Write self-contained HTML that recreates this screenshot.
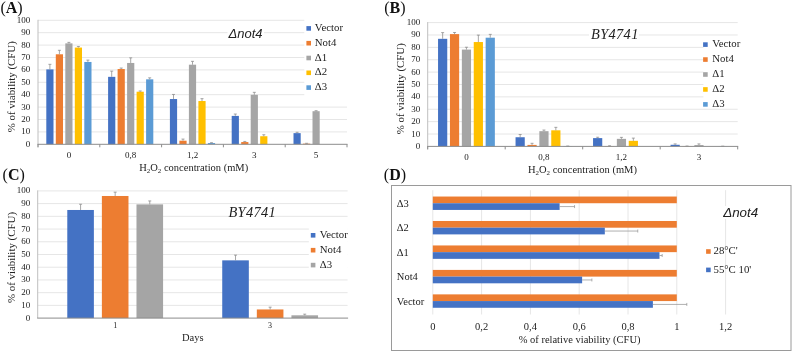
<!DOCTYPE html>
<html><head><meta charset="utf-8"><style>
html,body{margin:0;padding:0;background:#fff;}
body{width:794px;height:353px;overflow:hidden;font-family:"Liberation Serif",serif;}
svg{display:block;will-change:transform;}
</style></head><body>
<svg width="794" height="353" viewBox="0 0 794 353" shape-rendering="auto">
<rect width="794" height="353" fill="#fff"/>
<text x="0.4" y="12.6" font-size="16" font-family="'Liberation Serif', serif" fill="#111">(<tspan font-weight="bold">A</tspan>)</text>
<line x1="38" y1="131.9" x2="347" y2="131.9" stroke="#E6E6E6" stroke-width="1"/>
<line x1="38" y1="119.5" x2="347" y2="119.5" stroke="#E6E6E6" stroke-width="1"/>
<line x1="38" y1="107.1" x2="347" y2="107.1" stroke="#E6E6E6" stroke-width="1"/>
<line x1="38" y1="94.7" x2="347" y2="94.7" stroke="#E6E6E6" stroke-width="1"/>
<line x1="38" y1="82.3" x2="347" y2="82.3" stroke="#E6E6E6" stroke-width="1"/>
<line x1="38" y1="69.9" x2="347" y2="69.9" stroke="#E6E6E6" stroke-width="1"/>
<line x1="38" y1="57.5" x2="347" y2="57.5" stroke="#E6E6E6" stroke-width="1"/>
<line x1="38" y1="45.1" x2="347" y2="45.1" stroke="#E6E6E6" stroke-width="1"/>
<line x1="38" y1="32.7" x2="347" y2="32.7" stroke="#E6E6E6" stroke-width="1"/>
<line x1="38" y1="20.3" x2="347" y2="20.3" stroke="#E6E6E6" stroke-width="1"/>
<text x="30.3" y="146.8" font-size="9" text-anchor="end" font-family="'Liberation Serif', serif" font-weight="normal" font-style="normal" fill="#222222" >0</text>
<text x="30.3" y="134.4" font-size="9" text-anchor="end" font-family="'Liberation Serif', serif" font-weight="normal" font-style="normal" fill="#222222" >10</text>
<text x="30.3" y="122" font-size="9" text-anchor="end" font-family="'Liberation Serif', serif" font-weight="normal" font-style="normal" fill="#222222" >20</text>
<text x="30.3" y="109.6" font-size="9" text-anchor="end" font-family="'Liberation Serif', serif" font-weight="normal" font-style="normal" fill="#222222" >30</text>
<text x="30.3" y="97.2" font-size="9" text-anchor="end" font-family="'Liberation Serif', serif" font-weight="normal" font-style="normal" fill="#222222" >40</text>
<text x="30.3" y="84.8" font-size="9" text-anchor="end" font-family="'Liberation Serif', serif" font-weight="normal" font-style="normal" fill="#222222" >50</text>
<text x="30.3" y="72.4" font-size="9" text-anchor="end" font-family="'Liberation Serif', serif" font-weight="normal" font-style="normal" fill="#222222" >60</text>
<text x="30.3" y="60" font-size="9" text-anchor="end" font-family="'Liberation Serif', serif" font-weight="normal" font-style="normal" fill="#222222" >70</text>
<text x="30.3" y="47.6" font-size="9" text-anchor="end" font-family="'Liberation Serif', serif" font-weight="normal" font-style="normal" fill="#222222" >80</text>
<text x="30.3" y="35.2" font-size="9" text-anchor="end" font-family="'Liberation Serif', serif" font-weight="normal" font-style="normal" fill="#222222" >90</text>
<text x="30.3" y="22.8" font-size="9" text-anchor="end" font-family="'Liberation Serif', serif" font-weight="normal" font-style="normal" fill="#222222" >100</text>
<rect x="227.5" y="28.5" width="36.5" height="10" fill="#fff"/>
<rect x="304.3" y="19" width="43.5" height="81" fill="#fff"/>
<rect x="46.3" y="69.4" width="7.2" height="74.9" fill="#4472C4"/>
<line x1="49.9" y1="69.4" x2="49.9" y2="64.32" stroke="#8A8A8A" stroke-width="0.75"/>
<line x1="48.4" y1="64.32" x2="51.4" y2="64.32" stroke="#8A8A8A" stroke-width="0.75"/>
<rect x="55.8" y="54.28" width="7.2" height="90.02" fill="#ED7D31"/>
<line x1="59.4" y1="54.28" x2="59.4" y2="50.31" stroke="#8A8A8A" stroke-width="0.75"/>
<line x1="57.9" y1="50.31" x2="60.9" y2="50.31" stroke="#8A8A8A" stroke-width="0.75"/>
<rect x="65.3" y="43.36" width="7.2" height="100.94" fill="#A5A5A5"/>
<line x1="68.9" y1="43.36" x2="68.9" y2="42.37" stroke="#8A8A8A" stroke-width="0.75"/>
<line x1="67.4" y1="42.37" x2="70.4" y2="42.37" stroke="#8A8A8A" stroke-width="0.75"/>
<rect x="74.8" y="47.58" width="7.2" height="96.72" fill="#FFC000"/>
<line x1="78.4" y1="47.58" x2="78.4" y2="46.46" stroke="#8A8A8A" stroke-width="0.75"/>
<line x1="76.9" y1="46.46" x2="79.9" y2="46.46" stroke="#8A8A8A" stroke-width="0.75"/>
<rect x="84.3" y="61.96" width="7.2" height="82.34" fill="#5B9BD5"/>
<line x1="87.9" y1="61.96" x2="87.9" y2="60.1" stroke="#8A8A8A" stroke-width="0.75"/>
<line x1="86.4" y1="60.1" x2="89.4" y2="60.1" stroke="#8A8A8A" stroke-width="0.75"/>
<rect x="108.1" y="76.84" width="7.2" height="67.46" fill="#4472C4"/>
<line x1="111.7" y1="76.84" x2="111.7" y2="71.14" stroke="#8A8A8A" stroke-width="0.75"/>
<line x1="110.2" y1="71.14" x2="113.2" y2="71.14" stroke="#8A8A8A" stroke-width="0.75"/>
<rect x="117.6" y="69.03" width="7.2" height="75.27" fill="#ED7D31"/>
<line x1="121.2" y1="69.03" x2="121.2" y2="68.04" stroke="#8A8A8A" stroke-width="0.75"/>
<line x1="119.7" y1="68.04" x2="122.7" y2="68.04" stroke="#8A8A8A" stroke-width="0.75"/>
<rect x="127.1" y="62.96" width="7.2" height="81.34" fill="#A5A5A5"/>
<line x1="130.7" y1="62.96" x2="130.7" y2="57.87" stroke="#8A8A8A" stroke-width="0.75"/>
<line x1="129.2" y1="57.87" x2="132.2" y2="57.87" stroke="#8A8A8A" stroke-width="0.75"/>
<rect x="136.6" y="91.72" width="7.2" height="52.58" fill="#FFC000"/>
<line x1="140.2" y1="91.72" x2="140.2" y2="90.98" stroke="#8A8A8A" stroke-width="0.75"/>
<line x1="138.7" y1="90.98" x2="141.7" y2="90.98" stroke="#8A8A8A" stroke-width="0.75"/>
<rect x="146.1" y="79.32" width="7.2" height="64.98" fill="#5B9BD5"/>
<line x1="149.7" y1="79.32" x2="149.7" y2="77.84" stroke="#8A8A8A" stroke-width="0.75"/>
<line x1="148.2" y1="77.84" x2="151.2" y2="77.84" stroke="#8A8A8A" stroke-width="0.75"/>
<rect x="169.9" y="99.04" width="7.2" height="45.26" fill="#4472C4"/>
<line x1="173.5" y1="99.04" x2="173.5" y2="94.45" stroke="#8A8A8A" stroke-width="0.75"/>
<line x1="172" y1="94.45" x2="175" y2="94.45" stroke="#8A8A8A" stroke-width="0.75"/>
<rect x="179.4" y="140.7" width="7.2" height="3.6" fill="#ED7D31"/>
<line x1="183" y1="140.7" x2="183" y2="139.09" stroke="#8A8A8A" stroke-width="0.75"/>
<line x1="181.5" y1="139.09" x2="184.5" y2="139.09" stroke="#8A8A8A" stroke-width="0.75"/>
<rect x="188.9" y="64.69" width="7.2" height="79.61" fill="#A5A5A5"/>
<line x1="192.5" y1="64.69" x2="192.5" y2="61.34" stroke="#8A8A8A" stroke-width="0.75"/>
<line x1="191" y1="61.34" x2="194" y2="61.34" stroke="#8A8A8A" stroke-width="0.75"/>
<rect x="198.4" y="101.02" width="7.2" height="43.28" fill="#FFC000"/>
<line x1="202" y1="101.02" x2="202" y2="98.67" stroke="#8A8A8A" stroke-width="0.75"/>
<line x1="200.5" y1="98.67" x2="203.5" y2="98.67" stroke="#8A8A8A" stroke-width="0.75"/>
<rect x="207.9" y="143.06" width="7.2" height="1.24" fill="#5B9BD5"/>
<line x1="211.5" y1="143.06" x2="211.5" y2="142.69" stroke="#8A8A8A" stroke-width="0.75"/>
<line x1="210" y1="142.69" x2="213" y2="142.69" stroke="#8A8A8A" stroke-width="0.75"/>
<rect x="231.7" y="115.9" width="7.2" height="28.4" fill="#4472C4"/>
<line x1="235.3" y1="115.9" x2="235.3" y2="114.04" stroke="#8A8A8A" stroke-width="0.75"/>
<line x1="233.8" y1="114.04" x2="236.8" y2="114.04" stroke="#8A8A8A" stroke-width="0.75"/>
<rect x="241.2" y="142.07" width="7.2" height="2.23" fill="#ED7D31"/>
<line x1="244.8" y1="142.07" x2="244.8" y2="141.45" stroke="#8A8A8A" stroke-width="0.75"/>
<line x1="243.3" y1="141.45" x2="246.3" y2="141.45" stroke="#8A8A8A" stroke-width="0.75"/>
<rect x="250.7" y="94.82" width="7.2" height="49.48" fill="#A5A5A5"/>
<line x1="254.3" y1="94.82" x2="254.3" y2="92.34" stroke="#8A8A8A" stroke-width="0.75"/>
<line x1="252.8" y1="92.34" x2="255.8" y2="92.34" stroke="#8A8A8A" stroke-width="0.75"/>
<rect x="260.2" y="136.24" width="7.2" height="8.06" fill="#FFC000"/>
<line x1="263.8" y1="136.24" x2="263.8" y2="134.75" stroke="#8A8A8A" stroke-width="0.75"/>
<line x1="262.3" y1="134.75" x2="265.3" y2="134.75" stroke="#8A8A8A" stroke-width="0.75"/>
<rect x="293.5" y="133.14" width="7.2" height="11.16" fill="#4472C4"/>
<line x1="297.1" y1="133.14" x2="297.1" y2="132.27" stroke="#8A8A8A" stroke-width="0.75"/>
<line x1="295.6" y1="132.27" x2="298.6" y2="132.27" stroke="#8A8A8A" stroke-width="0.75"/>
<rect x="303" y="143.68" width="7.2" height="0.62" fill="#ED7D31"/>
<line x1="306.6" y1="143.68" x2="306.6" y2="143.31" stroke="#8A8A8A" stroke-width="0.75"/>
<line x1="305.1" y1="143.31" x2="308.1" y2="143.31" stroke="#8A8A8A" stroke-width="0.75"/>
<rect x="312.5" y="111.19" width="7.2" height="33.11" fill="#A5A5A5"/>
<line x1="316.1" y1="111.19" x2="316.1" y2="110.7" stroke="#8A8A8A" stroke-width="0.75"/>
<line x1="314.6" y1="110.7" x2="317.6" y2="110.7" stroke="#8A8A8A" stroke-width="0.75"/>
<line x1="38" y1="19.8" x2="38" y2="147.3" stroke="#BFBFBF" stroke-width="1"/>
<line x1="37.5" y1="144.3" x2="347.5" y2="144.3" stroke="#8C8C8C" stroke-width="1"/>
<line x1="38" y1="144.3" x2="38" y2="147.3" stroke="#8C8C8C" stroke-width="1"/>
<line x1="99.8" y1="144.3" x2="99.8" y2="147.3" stroke="#8C8C8C" stroke-width="1"/>
<line x1="161.6" y1="144.3" x2="161.6" y2="147.3" stroke="#8C8C8C" stroke-width="1"/>
<line x1="223.4" y1="144.3" x2="223.4" y2="147.3" stroke="#8C8C8C" stroke-width="1"/>
<line x1="285.2" y1="144.3" x2="285.2" y2="147.3" stroke="#8C8C8C" stroke-width="1"/>
<line x1="347" y1="144.3" x2="347" y2="147.3" stroke="#8C8C8C" stroke-width="1"/>
<text x="68.9" y="158" font-size="9" text-anchor="middle" font-family="'Liberation Serif', serif" font-weight="normal" font-style="normal" fill="#222222" >0</text>
<text x="130.7" y="158" font-size="9" text-anchor="middle" font-family="'Liberation Serif', serif" font-weight="normal" font-style="normal" fill="#222222" >0,8</text>
<text x="192.5" y="158" font-size="9" text-anchor="middle" font-family="'Liberation Serif', serif" font-weight="normal" font-style="normal" fill="#222222" >1,2</text>
<text x="254.3" y="158" font-size="9" text-anchor="middle" font-family="'Liberation Serif', serif" font-weight="normal" font-style="normal" fill="#222222" >3</text>
<text x="316.1" y="158" font-size="9" text-anchor="middle" font-family="'Liberation Serif', serif" font-weight="normal" font-style="normal" fill="#222222" >5</text>
<text transform="translate(14.6,86.7) rotate(-90)" x="0" y="0" font-size="10.9" text-anchor="middle" font-family="'Liberation Serif', serif" fill="#222222">% of viability (CFU)</text>
<text x="139.2" y="170.6" font-size="10.5" font-family="'Liberation Serif', serif" fill="#222222">H<tspan font-size="6.93" dy="2">2</tspan><tspan dy="-2">O</tspan><tspan font-size="6.93" dy="2">2</tspan><tspan dy="-2"> concentration (mM)</tspan></text>
<text x="228.5" y="38.1" font-size="13" text-anchor="start" font-family="'Liberation Sans', sans-serif" font-weight="normal" font-style="italic" fill="#222222" >&#916;not4</text>
<rect x="306.4" y="26.1" width="4.6" height="4.6" fill="#4472C4"/>
<text x="314.8" y="30.96" font-size="10.8" text-anchor="start" font-family="'Liberation Serif', serif" font-weight="normal" font-style="normal" fill="#222222" >Vector</text>
<rect x="306.4" y="40.9" width="4.6" height="4.6" fill="#ED7D31"/>
<text x="314.8" y="45.76" font-size="10.8" text-anchor="start" font-family="'Liberation Serif', serif" font-weight="normal" font-style="normal" fill="#222222" >Not4</text>
<rect x="306.4" y="55.7" width="4.6" height="4.6" fill="#A5A5A5"/>
<text x="314.8" y="60.56" font-size="10.8" text-anchor="start" font-family="'Liberation Serif', serif" font-weight="normal" font-style="normal" fill="#222222" >&#916;1</text>
<rect x="306.4" y="70.5" width="4.6" height="4.6" fill="#FFC000"/>
<text x="314.8" y="75.36" font-size="10.8" text-anchor="start" font-family="'Liberation Serif', serif" font-weight="normal" font-style="normal" fill="#222222" >&#916;2</text>
<rect x="306.4" y="85.3" width="4.6" height="4.6" fill="#5B9BD5"/>
<text x="314.8" y="90.16" font-size="10.8" text-anchor="start" font-family="'Liberation Serif', serif" font-weight="normal" font-style="normal" fill="#222222" >&#916;3</text>
<text x="384.2" y="12.6" font-size="16" font-family="'Liberation Serif', serif" fill="#111">(<tspan font-weight="bold">B</tspan>)</text>
<line x1="427.7" y1="134.02" x2="737.7" y2="134.02" stroke="#E6E6E6" stroke-width="1"/>
<line x1="427.7" y1="121.64" x2="737.7" y2="121.64" stroke="#E6E6E6" stroke-width="1"/>
<line x1="427.7" y1="109.26" x2="737.7" y2="109.26" stroke="#E6E6E6" stroke-width="1"/>
<line x1="427.7" y1="96.88" x2="737.7" y2="96.88" stroke="#E6E6E6" stroke-width="1"/>
<line x1="427.7" y1="84.5" x2="737.7" y2="84.5" stroke="#E6E6E6" stroke-width="1"/>
<line x1="427.7" y1="72.12" x2="737.7" y2="72.12" stroke="#E6E6E6" stroke-width="1"/>
<line x1="427.7" y1="59.74" x2="737.7" y2="59.74" stroke="#E6E6E6" stroke-width="1"/>
<line x1="427.7" y1="47.36" x2="737.7" y2="47.36" stroke="#E6E6E6" stroke-width="1"/>
<line x1="427.7" y1="34.98" x2="737.7" y2="34.98" stroke="#E6E6E6" stroke-width="1"/>
<line x1="427.7" y1="22.6" x2="737.7" y2="22.6" stroke="#E6E6E6" stroke-width="1"/>
<text x="420.2" y="148.9" font-size="9" text-anchor="end" font-family="'Liberation Serif', serif" font-weight="normal" font-style="normal" fill="#222222" >0</text>
<text x="420.2" y="136.52" font-size="9" text-anchor="end" font-family="'Liberation Serif', serif" font-weight="normal" font-style="normal" fill="#222222" >10</text>
<text x="420.2" y="124.14" font-size="9" text-anchor="end" font-family="'Liberation Serif', serif" font-weight="normal" font-style="normal" fill="#222222" >20</text>
<text x="420.2" y="111.76" font-size="9" text-anchor="end" font-family="'Liberation Serif', serif" font-weight="normal" font-style="normal" fill="#222222" >30</text>
<text x="420.2" y="99.38" font-size="9" text-anchor="end" font-family="'Liberation Serif', serif" font-weight="normal" font-style="normal" fill="#222222" >40</text>
<text x="420.2" y="87" font-size="9" text-anchor="end" font-family="'Liberation Serif', serif" font-weight="normal" font-style="normal" fill="#222222" >50</text>
<text x="420.2" y="74.62" font-size="9" text-anchor="end" font-family="'Liberation Serif', serif" font-weight="normal" font-style="normal" fill="#222222" >60</text>
<text x="420.2" y="62.24" font-size="9" text-anchor="end" font-family="'Liberation Serif', serif" font-weight="normal" font-style="normal" fill="#222222" >70</text>
<text x="420.2" y="49.86" font-size="9" text-anchor="end" font-family="'Liberation Serif', serif" font-weight="normal" font-style="normal" fill="#222222" >80</text>
<text x="420.2" y="37.48" font-size="9" text-anchor="end" font-family="'Liberation Serif', serif" font-weight="normal" font-style="normal" fill="#222222" >90</text>
<text x="420.2" y="25.1" font-size="9" text-anchor="end" font-family="'Liberation Serif', serif" font-weight="normal" font-style="normal" fill="#222222" >100</text>
<rect x="589" y="28.5" width="50" height="10" fill="#fff"/>
<rect x="703.4" y="36" width="36" height="70" fill="#fff"/>
<rect x="438.05" y="38.82" width="9.2" height="107.58" fill="#4472C4"/>
<line x1="442.65" y1="38.82" x2="442.65" y2="32.63" stroke="#8A8A8A" stroke-width="0.75"/>
<line x1="441.15" y1="32.63" x2="444.15" y2="32.63" stroke="#8A8A8A" stroke-width="0.75"/>
<rect x="449.95" y="34.11" width="9.2" height="112.29" fill="#ED7D31"/>
<line x1="454.55" y1="34.11" x2="454.55" y2="32.5" stroke="#8A8A8A" stroke-width="0.75"/>
<line x1="453.05" y1="32.5" x2="456.05" y2="32.5" stroke="#8A8A8A" stroke-width="0.75"/>
<rect x="461.85" y="49.59" width="9.2" height="96.81" fill="#A5A5A5"/>
<line x1="466.45" y1="49.59" x2="466.45" y2="47.24" stroke="#8A8A8A" stroke-width="0.75"/>
<line x1="464.95" y1="47.24" x2="467.95" y2="47.24" stroke="#8A8A8A" stroke-width="0.75"/>
<rect x="473.75" y="42.04" width="9.2" height="104.36" fill="#FFC000"/>
<line x1="478.35" y1="42.04" x2="478.35" y2="35.1" stroke="#8A8A8A" stroke-width="0.75"/>
<line x1="476.85" y1="35.1" x2="479.85" y2="35.1" stroke="#8A8A8A" stroke-width="0.75"/>
<rect x="485.65" y="37.7" width="9.2" height="108.7" fill="#5B9BD5"/>
<line x1="490.25" y1="37.7" x2="490.25" y2="34.36" stroke="#8A8A8A" stroke-width="0.75"/>
<line x1="488.75" y1="34.36" x2="491.75" y2="34.36" stroke="#8A8A8A" stroke-width="0.75"/>
<rect x="515.55" y="137.24" width="9.2" height="9.16" fill="#4472C4"/>
<line x1="520.15" y1="137.24" x2="520.15" y2="134.52" stroke="#8A8A8A" stroke-width="0.75"/>
<line x1="518.65" y1="134.52" x2="521.65" y2="134.52" stroke="#8A8A8A" stroke-width="0.75"/>
<rect x="527.45" y="144.91" width="9.2" height="1.49" fill="#ED7D31"/>
<line x1="532.05" y1="144.91" x2="532.05" y2="143.31" stroke="#8A8A8A" stroke-width="0.75"/>
<line x1="530.55" y1="143.31" x2="533.55" y2="143.31" stroke="#8A8A8A" stroke-width="0.75"/>
<rect x="539.35" y="131.17" width="9.2" height="15.23" fill="#A5A5A5"/>
<line x1="543.95" y1="131.17" x2="543.95" y2="130.06" stroke="#8A8A8A" stroke-width="0.75"/>
<line x1="542.45" y1="130.06" x2="545.45" y2="130.06" stroke="#8A8A8A" stroke-width="0.75"/>
<rect x="551.25" y="130.31" width="9.2" height="16.09" fill="#FFC000"/>
<line x1="555.85" y1="130.31" x2="555.85" y2="127.33" stroke="#8A8A8A" stroke-width="0.75"/>
<line x1="554.35" y1="127.33" x2="557.35" y2="127.33" stroke="#8A8A8A" stroke-width="0.75"/>
<rect x="563.15" y="146.15" width="9.2" height="0.25" fill="#5B9BD5"/>
<line x1="567.75" y1="146.15" x2="567.75" y2="146.03" stroke="#8A8A8A" stroke-width="0.75"/>
<line x1="566.25" y1="146.03" x2="569.25" y2="146.03" stroke="#8A8A8A" stroke-width="0.75"/>
<rect x="593.05" y="138.11" width="9.2" height="8.29" fill="#4472C4"/>
<line x1="597.65" y1="138.11" x2="597.65" y2="137.24" stroke="#8A8A8A" stroke-width="0.75"/>
<line x1="596.15" y1="137.24" x2="599.15" y2="137.24" stroke="#8A8A8A" stroke-width="0.75"/>
<rect x="604.95" y="146.15" width="9.2" height="0.25" fill="#ED7D31"/>
<line x1="609.55" y1="146.15" x2="609.55" y2="145.78" stroke="#8A8A8A" stroke-width="0.75"/>
<line x1="608.05" y1="145.78" x2="611.05" y2="145.78" stroke="#8A8A8A" stroke-width="0.75"/>
<rect x="616.85" y="138.85" width="9.2" height="7.55" fill="#A5A5A5"/>
<line x1="621.45" y1="138.85" x2="621.45" y2="137.36" stroke="#8A8A8A" stroke-width="0.75"/>
<line x1="619.95" y1="137.36" x2="622.95" y2="137.36" stroke="#8A8A8A" stroke-width="0.75"/>
<rect x="628.75" y="140.83" width="9.2" height="5.57" fill="#FFC000"/>
<line x1="633.35" y1="140.83" x2="633.35" y2="138.11" stroke="#8A8A8A" stroke-width="0.75"/>
<line x1="631.85" y1="138.11" x2="634.85" y2="138.11" stroke="#8A8A8A" stroke-width="0.75"/>
<rect x="670.55" y="144.79" width="9.2" height="1.61" fill="#4472C4"/>
<line x1="675.15" y1="144.79" x2="675.15" y2="143.92" stroke="#8A8A8A" stroke-width="0.75"/>
<line x1="673.65" y1="143.92" x2="676.65" y2="143.92" stroke="#8A8A8A" stroke-width="0.75"/>
<rect x="682.45" y="146.15" width="9.2" height="0.25" fill="#ED7D31"/>
<line x1="687.05" y1="146.15" x2="687.05" y2="146.03" stroke="#8A8A8A" stroke-width="0.75"/>
<line x1="685.55" y1="146.03" x2="688.55" y2="146.03" stroke="#8A8A8A" stroke-width="0.75"/>
<rect x="694.35" y="145.04" width="9.2" height="1.36" fill="#A5A5A5"/>
<line x1="698.95" y1="145.04" x2="698.95" y2="143.92" stroke="#8A8A8A" stroke-width="0.75"/>
<line x1="697.45" y1="143.92" x2="700.45" y2="143.92" stroke="#8A8A8A" stroke-width="0.75"/>
<rect x="718.15" y="146.28" width="9.2" height="0.12" fill="#5B9BD5"/>
<line x1="722.75" y1="146.28" x2="722.75" y2="146.15" stroke="#8A8A8A" stroke-width="0.75"/>
<line x1="721.25" y1="146.15" x2="724.25" y2="146.15" stroke="#8A8A8A" stroke-width="0.75"/>
<line x1="427.7" y1="22.1" x2="427.7" y2="149.4" stroke="#BFBFBF" stroke-width="1"/>
<line x1="427.2" y1="146.4" x2="738.2" y2="146.4" stroke="#8C8C8C" stroke-width="1"/>
<line x1="427.7" y1="146.4" x2="427.7" y2="149.4" stroke="#8C8C8C" stroke-width="1"/>
<line x1="505.2" y1="146.4" x2="505.2" y2="149.4" stroke="#8C8C8C" stroke-width="1"/>
<line x1="582.7" y1="146.4" x2="582.7" y2="149.4" stroke="#8C8C8C" stroke-width="1"/>
<line x1="660.2" y1="146.4" x2="660.2" y2="149.4" stroke="#8C8C8C" stroke-width="1"/>
<line x1="737.7" y1="146.4" x2="737.7" y2="149.4" stroke="#8C8C8C" stroke-width="1"/>
<text x="466.45" y="160" font-size="9" text-anchor="middle" font-family="'Liberation Serif', serif" font-weight="normal" font-style="normal" fill="#222222" >0</text>
<text x="543.95" y="160" font-size="9" text-anchor="middle" font-family="'Liberation Serif', serif" font-weight="normal" font-style="normal" fill="#222222" >0,8</text>
<text x="621.45" y="160" font-size="9" text-anchor="middle" font-family="'Liberation Serif', serif" font-weight="normal" font-style="normal" fill="#222222" >1,2</text>
<text x="698.95" y="160" font-size="9" text-anchor="middle" font-family="'Liberation Serif', serif" font-weight="normal" font-style="normal" fill="#222222" >3</text>
<text transform="translate(403.6,88.7) rotate(-90)" x="0" y="0" font-size="10.9" text-anchor="middle" font-family="'Liberation Serif', serif" fill="#222222">% of viability (CFU)</text>
<text x="527.9" y="172.9" font-size="10.5" font-family="'Liberation Serif', serif" fill="#222222">H<tspan font-size="6.93" dy="2">2</tspan><tspan dy="-2">O</tspan><tspan font-size="6.93" dy="2">2</tspan><tspan dy="-2"> concentration (mM)</tspan></text>
<text x="591" y="38.6" font-size="14.4" text-anchor="start" font-family="'Liberation Serif', serif" font-weight="normal" font-style="italic" fill="#222222" letter-spacing="0.35">BY4741</text>
<rect x="703.1" y="42.3" width="4.6" height="4.6" fill="#4472C4"/>
<text x="712.2" y="46.76" font-size="10.8" text-anchor="start" font-family="'Liberation Serif', serif" font-weight="normal" font-style="normal" fill="#222222" >Vector</text>
<rect x="703.1" y="57.25" width="4.6" height="4.6" fill="#ED7D31"/>
<text x="712.2" y="61.71" font-size="10.8" text-anchor="start" font-family="'Liberation Serif', serif" font-weight="normal" font-style="normal" fill="#222222" >Not4</text>
<rect x="703.1" y="72.2" width="4.6" height="4.6" fill="#A5A5A5"/>
<text x="712.2" y="76.66" font-size="10.8" text-anchor="start" font-family="'Liberation Serif', serif" font-weight="normal" font-style="normal" fill="#222222" >&#916;1</text>
<rect x="703.1" y="87.15" width="4.6" height="4.6" fill="#FFC000"/>
<text x="712.2" y="91.61" font-size="10.8" text-anchor="start" font-family="'Liberation Serif', serif" font-weight="normal" font-style="normal" fill="#222222" >&#916;2</text>
<rect x="703.1" y="102.1" width="4.6" height="4.6" fill="#5B9BD5"/>
<text x="712.2" y="106.56" font-size="10.8" text-anchor="start" font-family="'Liberation Serif', serif" font-weight="normal" font-style="normal" fill="#222222" >&#916;3</text>
<text x="2.6" y="180.1" font-size="16" font-family="'Liberation Serif', serif" fill="#111">(<tspan font-weight="bold">C</tspan>)</text>
<line x1="37.7" y1="305.38" x2="347.6" y2="305.38" stroke="#E6E6E6" stroke-width="1"/>
<line x1="37.7" y1="292.66" x2="347.6" y2="292.66" stroke="#E6E6E6" stroke-width="1"/>
<line x1="37.7" y1="279.94" x2="347.6" y2="279.94" stroke="#E6E6E6" stroke-width="1"/>
<line x1="37.7" y1="267.22" x2="347.6" y2="267.22" stroke="#E6E6E6" stroke-width="1"/>
<line x1="37.7" y1="254.5" x2="347.6" y2="254.5" stroke="#E6E6E6" stroke-width="1"/>
<line x1="37.7" y1="241.78" x2="347.6" y2="241.78" stroke="#E6E6E6" stroke-width="1"/>
<line x1="37.7" y1="229.06" x2="347.6" y2="229.06" stroke="#E6E6E6" stroke-width="1"/>
<line x1="37.7" y1="216.34" x2="347.6" y2="216.34" stroke="#E6E6E6" stroke-width="1"/>
<line x1="37.7" y1="203.62" x2="347.6" y2="203.62" stroke="#E6E6E6" stroke-width="1"/>
<line x1="37.7" y1="190.9" x2="347.6" y2="190.9" stroke="#E6E6E6" stroke-width="1"/>
<text x="30.2" y="320.6" font-size="9" text-anchor="end" font-family="'Liberation Serif', serif" font-weight="normal" font-style="normal" fill="#222222" >0</text>
<text x="30.2" y="307.88" font-size="9" text-anchor="end" font-family="'Liberation Serif', serif" font-weight="normal" font-style="normal" fill="#222222" >10</text>
<text x="30.2" y="295.16" font-size="9" text-anchor="end" font-family="'Liberation Serif', serif" font-weight="normal" font-style="normal" fill="#222222" >20</text>
<text x="30.2" y="282.44" font-size="9" text-anchor="end" font-family="'Liberation Serif', serif" font-weight="normal" font-style="normal" fill="#222222" >30</text>
<text x="30.2" y="269.72" font-size="9" text-anchor="end" font-family="'Liberation Serif', serif" font-weight="normal" font-style="normal" fill="#222222" >40</text>
<text x="30.2" y="257" font-size="9" text-anchor="end" font-family="'Liberation Serif', serif" font-weight="normal" font-style="normal" fill="#222222" >50</text>
<text x="30.2" y="244.28" font-size="9" text-anchor="end" font-family="'Liberation Serif', serif" font-weight="normal" font-style="normal" fill="#222222" >60</text>
<text x="30.2" y="231.56" font-size="9" text-anchor="end" font-family="'Liberation Serif', serif" font-weight="normal" font-style="normal" fill="#222222" >70</text>
<text x="30.2" y="218.84" font-size="9" text-anchor="end" font-family="'Liberation Serif', serif" font-weight="normal" font-style="normal" fill="#222222" >80</text>
<text x="30.2" y="206.12" font-size="9" text-anchor="end" font-family="'Liberation Serif', serif" font-weight="normal" font-style="normal" fill="#222222" >90</text>
<text x="30.2" y="193.4" font-size="9" text-anchor="end" font-family="'Liberation Serif', serif" font-weight="normal" font-style="normal" fill="#222222" >100</text>
<rect x="229" y="206" width="44" height="12" fill="#fff"/>
<rect x="308.8" y="219" width="39" height="55" fill="#fff"/>
<rect x="67.28" y="209.98" width="26.6" height="108.12" fill="#4472C4"/>
<line x1="80.58" y1="209.98" x2="80.58" y2="204.26" stroke="#8A8A8A" stroke-width="0.75"/>
<line x1="79.08" y1="204.26" x2="82.08" y2="204.26" stroke="#8A8A8A" stroke-width="0.75"/>
<rect x="101.88" y="195.99" width="26.6" height="122.11" fill="#ED7D31"/>
<line x1="115.17" y1="195.99" x2="115.17" y2="192.17" stroke="#8A8A8A" stroke-width="0.75"/>
<line x1="113.67" y1="192.17" x2="116.67" y2="192.17" stroke="#8A8A8A" stroke-width="0.75"/>
<rect x="136.48" y="204.38" width="26.6" height="113.72" fill="#A5A5A5"/>
<line x1="149.78" y1="204.38" x2="149.78" y2="200.95" stroke="#8A8A8A" stroke-width="0.75"/>
<line x1="148.28" y1="200.95" x2="151.28" y2="200.95" stroke="#8A8A8A" stroke-width="0.75"/>
<rect x="222.23" y="260.35" width="26.6" height="57.75" fill="#4472C4"/>
<line x1="235.53" y1="260.35" x2="235.53" y2="255.14" stroke="#8A8A8A" stroke-width="0.75"/>
<line x1="234.03" y1="255.14" x2="237.03" y2="255.14" stroke="#8A8A8A" stroke-width="0.75"/>
<rect x="256.83" y="309.45" width="26.6" height="8.65" fill="#ED7D31"/>
<line x1="270.13" y1="309.45" x2="270.13" y2="307.16" stroke="#8A8A8A" stroke-width="0.75"/>
<line x1="268.63" y1="307.16" x2="271.63" y2="307.16" stroke="#8A8A8A" stroke-width="0.75"/>
<rect x="291.43" y="315.3" width="26.6" height="2.8" fill="#A5A5A5"/>
<line x1="304.73" y1="315.3" x2="304.73" y2="314.16" stroke="#8A8A8A" stroke-width="0.75"/>
<line x1="303.23" y1="314.16" x2="306.23" y2="314.16" stroke="#8A8A8A" stroke-width="0.75"/>
<line x1="37.7" y1="190.4" x2="37.7" y2="318.1" stroke="#BFBFBF" stroke-width="1"/>
<line x1="37.2" y1="318.1" x2="348.1" y2="318.1" stroke="#8C8C8C" stroke-width="1"/>
<text x="115.18" y="328.3" font-size="8" text-anchor="middle" font-family="'Liberation Serif', serif" font-weight="normal" font-style="normal" fill="#222222" >1</text>
<text x="270.12" y="328.3" font-size="8" text-anchor="middle" font-family="'Liberation Serif', serif" font-weight="normal" font-style="normal" fill="#222222" >3</text>
<text transform="translate(14.6,257.5) rotate(-90)" x="0" y="0" font-size="10.9" text-anchor="middle" font-family="'Liberation Serif', serif" fill="#222222">% of viability (CFU)</text>
<text x="182" y="341.1" font-size="10.5" text-anchor="start" font-family="'Liberation Serif', serif" font-weight="normal" font-style="normal" fill="#222222" >Days</text>
<text x="228.4" y="217.2" font-size="14.4" text-anchor="start" font-family="'Liberation Serif', serif" font-weight="normal" font-style="italic" fill="#222222" letter-spacing="0.35">BY4741</text>
<rect x="310.8" y="233" width="4.6" height="4.6" fill="#4472C4"/>
<text x="319.7" y="238.26" font-size="10.8" text-anchor="start" font-family="'Liberation Serif', serif" font-weight="normal" font-style="normal" fill="#222222" >Vector</text>
<rect x="310.8" y="247.9" width="4.6" height="4.6" fill="#ED7D31"/>
<text x="319.7" y="253.16" font-size="10.8" text-anchor="start" font-family="'Liberation Serif', serif" font-weight="normal" font-style="normal" fill="#222222" >Not4</text>
<rect x="310.8" y="262.8" width="4.6" height="4.6" fill="#A5A5A5"/>
<text x="319.7" y="268.06" font-size="10.8" text-anchor="start" font-family="'Liberation Serif', serif" font-weight="normal" font-style="normal" fill="#222222" >&#916;3</text>
<text x="383.8" y="180.4" font-size="16" font-family="'Liberation Serif', serif" fill="#111">(<tspan font-weight="bold">D</tspan>)</text>
<rect x="391.5" y="185.5" width="399.5" height="165" fill="none" stroke="#9A9A9A" stroke-width="1"/>
<line x1="432.8" y1="190.2" x2="432.8" y2="314.5" stroke="#E6E6E6" stroke-width="1"/>
<line x1="481.6" y1="190.2" x2="481.6" y2="314.5" stroke="#E6E6E6" stroke-width="1"/>
<line x1="530.4" y1="190.2" x2="530.4" y2="314.5" stroke="#E6E6E6" stroke-width="1"/>
<line x1="579.2" y1="190.2" x2="579.2" y2="314.5" stroke="#E6E6E6" stroke-width="1"/>
<line x1="628" y1="190.2" x2="628" y2="314.5" stroke="#E6E6E6" stroke-width="1"/>
<line x1="676.8" y1="190.2" x2="676.8" y2="314.5" stroke="#E6E6E6" stroke-width="1"/>
<line x1="725.6" y1="190.2" x2="725.6" y2="314.5" stroke="#E6E6E6" stroke-width="1"/>
<text x="432.8" y="329.8" font-size="10.5" text-anchor="middle" font-family="'Liberation Serif', serif" font-weight="normal" font-style="normal" fill="#222222" >0</text>
<text x="481.6" y="329.8" font-size="10.5" text-anchor="middle" font-family="'Liberation Serif', serif" font-weight="normal" font-style="normal" fill="#222222" >0,2</text>
<text x="530.4" y="329.8" font-size="10.5" text-anchor="middle" font-family="'Liberation Serif', serif" font-weight="normal" font-style="normal" fill="#222222" >0,4</text>
<text x="579.2" y="329.8" font-size="10.5" text-anchor="middle" font-family="'Liberation Serif', serif" font-weight="normal" font-style="normal" fill="#222222" >0,6</text>
<text x="628" y="329.8" font-size="10.5" text-anchor="middle" font-family="'Liberation Serif', serif" font-weight="normal" font-style="normal" fill="#222222" >0,8</text>
<text x="676.8" y="329.8" font-size="10.5" text-anchor="middle" font-family="'Liberation Serif', serif" font-weight="normal" font-style="normal" fill="#222222" >1</text>
<text x="725.6" y="329.8" font-size="10.5" text-anchor="middle" font-family="'Liberation Serif', serif" font-weight="normal" font-style="normal" fill="#222222" >1,2</text>
<text x="579.6" y="343.2" font-size="10.5" text-anchor="middle" font-family="'Liberation Serif', serif" font-weight="normal" font-style="normal" fill="#222222" >% of relative viability (CFU)</text>
<rect x="432.8" y="196.53" width="244" height="6.7" fill="#ED7D31"/>
<rect x="432.8" y="203.23" width="126.81" height="6.7" fill="#4472C4"/>
<line x1="559.61" y1="206.58" x2="574.56" y2="206.58" stroke="#959595" stroke-width="0.75"/>
<line x1="574.56" y1="205.08" x2="574.56" y2="208.08" stroke="#959595" stroke-width="0.75"/>
<text x="396.8" y="206.73" font-size="10.5" text-anchor="start" font-family="'Liberation Serif', serif" font-weight="normal" font-style="normal" fill="#222222" >&#916;3</text>
<rect x="432.8" y="220.99" width="244" height="6.7" fill="#ED7D31"/>
<rect x="432.8" y="227.69" width="172.02" height="6.7" fill="#4472C4"/>
<line x1="604.82" y1="231.04" x2="637.76" y2="231.04" stroke="#959595" stroke-width="0.75"/>
<line x1="637.76" y1="229.54" x2="637.76" y2="232.54" stroke="#959595" stroke-width="0.75"/>
<text x="396.8" y="231.19" font-size="10.5" text-anchor="start" font-family="'Liberation Serif', serif" font-weight="normal" font-style="normal" fill="#222222" >&#916;2</text>
<rect x="432.8" y="245.45" width="244" height="6.7" fill="#ED7D31"/>
<rect x="432.8" y="252.15" width="226.68" height="6.7" fill="#4472C4"/>
<line x1="659.48" y1="255.5" x2="662.16" y2="255.5" stroke="#959595" stroke-width="0.75"/>
<line x1="662.16" y1="254" x2="662.16" y2="257" stroke="#959595" stroke-width="0.75"/>
<text x="396.8" y="255.65" font-size="10.5" text-anchor="start" font-family="'Liberation Serif', serif" font-weight="normal" font-style="normal" fill="#222222" >&#916;1</text>
<rect x="432.8" y="269.91" width="244" height="6.7" fill="#ED7D31"/>
<rect x="432.8" y="276.61" width="149.33" height="6.7" fill="#4472C4"/>
<line x1="582.13" y1="279.96" x2="591.89" y2="279.96" stroke="#959595" stroke-width="0.75"/>
<line x1="591.89" y1="278.46" x2="591.89" y2="281.46" stroke="#959595" stroke-width="0.75"/>
<text x="396.8" y="280.11" font-size="10.5" text-anchor="start" font-family="'Liberation Serif', serif" font-weight="normal" font-style="normal" fill="#222222" >Not4</text>
<rect x="432.8" y="294.37" width="244" height="6.7" fill="#ED7D31"/>
<rect x="432.8" y="301.07" width="220.09" height="6.7" fill="#4472C4"/>
<line x1="652.89" y1="304.42" x2="686.8" y2="304.42" stroke="#959595" stroke-width="0.75"/>
<line x1="686.8" y1="302.92" x2="686.8" y2="305.92" stroke="#959595" stroke-width="0.75"/>
<text x="396.8" y="304.57" font-size="10.5" text-anchor="start" font-family="'Liberation Serif', serif" font-weight="normal" font-style="normal" fill="#222222" >Vector</text>
<rect x="722" y="206" width="38" height="13" fill="#fff"/>
<text x="723.2" y="217.2" font-size="13.4" text-anchor="start" font-family="'Liberation Sans', sans-serif" font-weight="normal" font-style="italic" fill="#222222" >&#916;not4</text>
<rect x="706.1" y="249.2" width="4.6" height="4.6" fill="#ED7D31"/>
<text x="713.5" y="254.46" font-size="10.8" text-anchor="start" font-family="'Liberation Serif', serif" font-weight="normal" font-style="normal" fill="#222222" >28°C'</text>
<rect x="706.1" y="267.6" width="4.6" height="4.6" fill="#4472C4"/>
<text x="713.5" y="272.86" font-size="10.8" text-anchor="start" font-family="'Liberation Serif', serif" font-weight="normal" font-style="normal" fill="#222222" >55°C 10'</text>
</svg>
</body></html>
